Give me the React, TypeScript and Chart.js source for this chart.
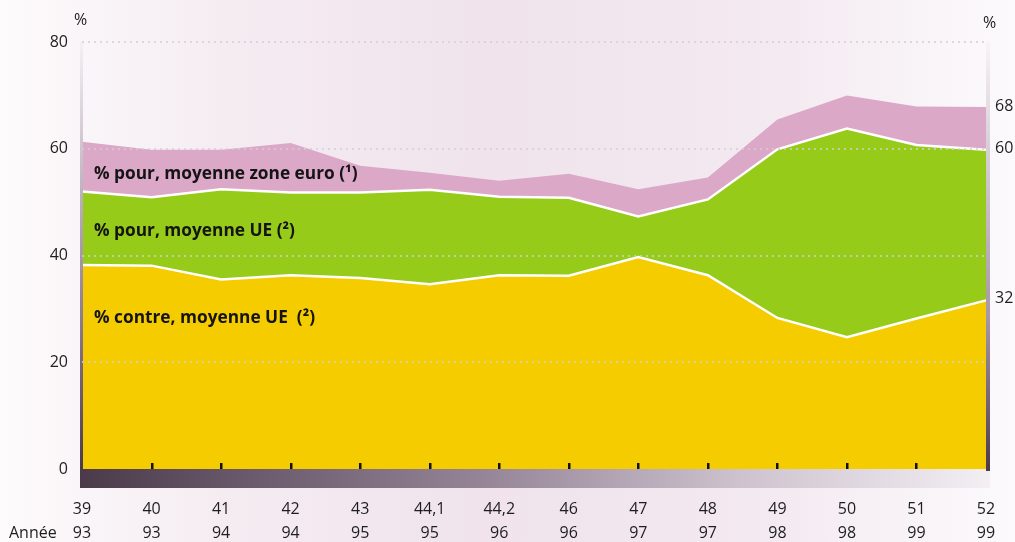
import { useEffect, useRef } from "react";
import { Chart, registerables } from "chart.js";

Chart.register(...registerables);

// ---- data ----
const periods = ["39", "40", "41", "42", "43", "44,1", "44,2", "46", "47", "48", "49", "50", "51", "52"];
const years = ["93", "93", "94", "94", "95", "95", "96", "96", "97", "97", "98", "98", "99", "99"];
const contreUE = [38.2, 38.1, 35.5, 36.3, 35.8, 34.6, 36.3, 36.2, 39.7, 36.3, 28.3, 24.7, 28.2, 31.6];
const pourUE = [52.0, 50.9, 52.4, 51.8, 51.8, 52.3, 51.0, 50.8, 47.3, 50.5, 59.9, 63.8, 60.7, 59.8];
const pourEuro = [61.3, 59.8, 59.8, 61.1, 56.8, 55.5, 54.0, 55.3, 52.4, 54.6, 65.5, 70.0, 67.9, 67.8];
const leftTickStep = 20;
const rightTicks = [32, 60, 68];
const seriesLabels = ["% contre, moyenne UE  (²)", "% pour, moyenne UE (²)", "% pour, moyenne zone euro (¹)"];
const rowTitle = "Année";
const unitLabel = "%";

const FONT = '"Open Sans", "Noto Sans", sans-serif';

const decoPlugin = {
  id: "deco",
  afterDatasetsDraw(chart: any) {
    const { ctx, chartArea, scales } = chart;
    const { left, right, top, bottom } = chartArea;
    const x = scales.x;
    ctx.save();
    // bottom band
    let g = ctx.createLinearGradient(80, 0, 990, 0);
    g.addColorStop(0, "#4b3a4a");
    g.addColorStop(0.45, "#968698");
    g.addColorStop(0.72, "#cdc1cd");
    g.addColorStop(1, "#f3eff3");
    ctx.fillStyle = g;
    ctx.fillRect(left - 2, bottom, 910, 19);
    // left axis line
    g = ctx.createLinearGradient(0, top, 0, bottom);
    g.addColorStop(0, "#f5f0f4");
    g.addColorStop(0.5, "#a797a7");
    g.addColorStop(1, "#4b3a4a");
    ctx.fillStyle = g;
    ctx.fillRect(left - 2, top, 3, bottom - top);
    // right axis line
    g = ctx.createLinearGradient(0, top, 0, bottom);
    g.addColorStop(0, "#f7f3f6");
    g.addColorStop(0.65, "#a596a5");
    g.addColorStop(1, "#4b3a4a");
    ctx.fillStyle = g;
    ctx.fillRect(right, top, 4, bottom - top + 2);
    // tick marks
    ctx.fillStyle = "#111";
    for (let i = 1; i < periods.length - 1; i++) {
      const px = x.getPixelForValue(i);
      ctx.fillRect(Math.round(px) - 1, bottom - 6, 2.5, 6);
    }
    // series labels
    ctx.fillStyle = "#141414";
    ctx.font = `bold 17.3px ${FONT}`;
    ctx.textAlign = "left";
    ctx.textBaseline = "alphabetic";
    ctx.fillText(seriesLabels[2], 94, 179);
    ctx.fillText(seriesLabels[1], 94, 236);
    ctx.fillText(seriesLabels[0], 94, 323);
    ctx.restore();
  },
  afterDraw(chart: any) {
    const { ctx, chartArea } = chart;
    ctx.save();
    ctx.fillStyle = "#1e1e1e";
    ctx.font = `16px ${FONT}`;
    ctx.textAlign = "center";
    ctx.textBaseline = "alphabetic";
    ctx.fillText(unitLabel, 80.5, 25);
    ctx.fillText(unitLabel, 989.5, 28);
    ctx.textAlign = "left";
    ctx.textBaseline = "middle";
    ctx.fillText(rowTitle, 9, chartArea.bottom + 29 + 23.5 * 1.5);
    ctx.restore();
  },
};

export default function App() {
  const ref = useRef<HTMLCanvasElement>(null);
  useEffect(() => {
    const canvas = ref.current!;
    const labels = periods.map((p, i) => [p, years[i]]);
    const chart = new Chart(canvas, {
      type: "line",
      data: {
        labels,
        datasets: [
          {
            label: seriesLabels[0],
            data: contreUE,
            backgroundColor: "#f5cc00",
            borderColor: "#ffffff",
            borderWidth: 2.5,
            fill: "origin",
            pointRadius: 0,
          },
          {
            label: seriesLabels[1],
            data: pourUE,
            backgroundColor: "#97cb1a",
            borderColor: "#ffffff",
            borderWidth: 2.5,
            fill: "origin",
            pointRadius: 0,
          },
          {
            label: seriesLabels[2],
            data: pourEuro,
            backgroundColor: "#dba8c8",
            borderColor: "rgba(0,0,0,0)",
            borderWidth: 0,
            fill: "origin",
            pointRadius: 0,
          },
        ],
      },
      options: {
        animation: false,
        responsive: false,
        devicePixelRatio: 1,
        layout: { padding: { top: 42, left: 0, right: 0, bottom: 0 } },
        plugins: { legend: { display: false }, tooltip: { enabled: false } },
        elements: { line: { tension: 0 }, point: { radius: 0 } },
        scales: {
          x: {
            type: "category",
            offset: false,
            grid: {
              display: true,
              drawOnChartArea: false,
              drawTicks: true,
              tickLength: 29,
              color: "rgba(0,0,0,0)",
            },
            border: { display: false },
            ticks: {
              autoSkip: false,
              maxRotation: 0,
              padding: 0,
              color: "#1e1e1e",
              font: { family: FONT, size: 16, lineHeight: 1.47 },
            },
            afterFit: (s: any) => {
              s.height = 73;
            },
          },
          y: {
            position: "left",
            min: 0,
            max: 80,
            ticks: {
              stepSize: leftTickStep,
              padding: 14,
              color: "#1e1e1e",
              font: { family: FONT, size: 16 },
            },
            grid: {
              z: 1,
              drawTicks: false,
              lineWidth: 2,
              color: (c: any) => (c.tick && c.tick.value === 0 ? "rgba(0,0,0,0)" : "rgba(212,206,212,0.75)"),
            },
            border: { display: false, dash: [2, 4] },
            afterFit: (s: any) => {
              s.width = 82;
            },
          },
          y2: {
            position: "right",
            min: 0,
            max: 80,
            afterBuildTicks: (axis: any) => {
              axis.ticks = rightTicks.map((v) => ({ value: v }));
            },
            ticks: {
              padding: 9,
              color: "#1e1e1e",
              font: { family: FONT, size: 16 },
            },
            grid: { display: false, drawTicks: false },
            border: { display: false },
            afterFit: (s: any) => {
              s.width = 29;
            },
          },
        },
      },
      plugins: [decoPlugin],
    } as any);
    return () => chart.destroy();
  }, []);
  return (
    <div
      style={{
        position: "absolute",
        left: 0,
        top: 0,
        width: 1015,
        height: 542,
        background:
          "linear-gradient(90deg, #fdfbfc 0%, #f5ecf2 22%, #f0e3ec 48%, #f3e9f0 75%, #fcfafc 100%)",
      }}
    >
      <canvas ref={ref} width={1015} height={542} style={{ display: "block" }} />
    </div>
  );
}
